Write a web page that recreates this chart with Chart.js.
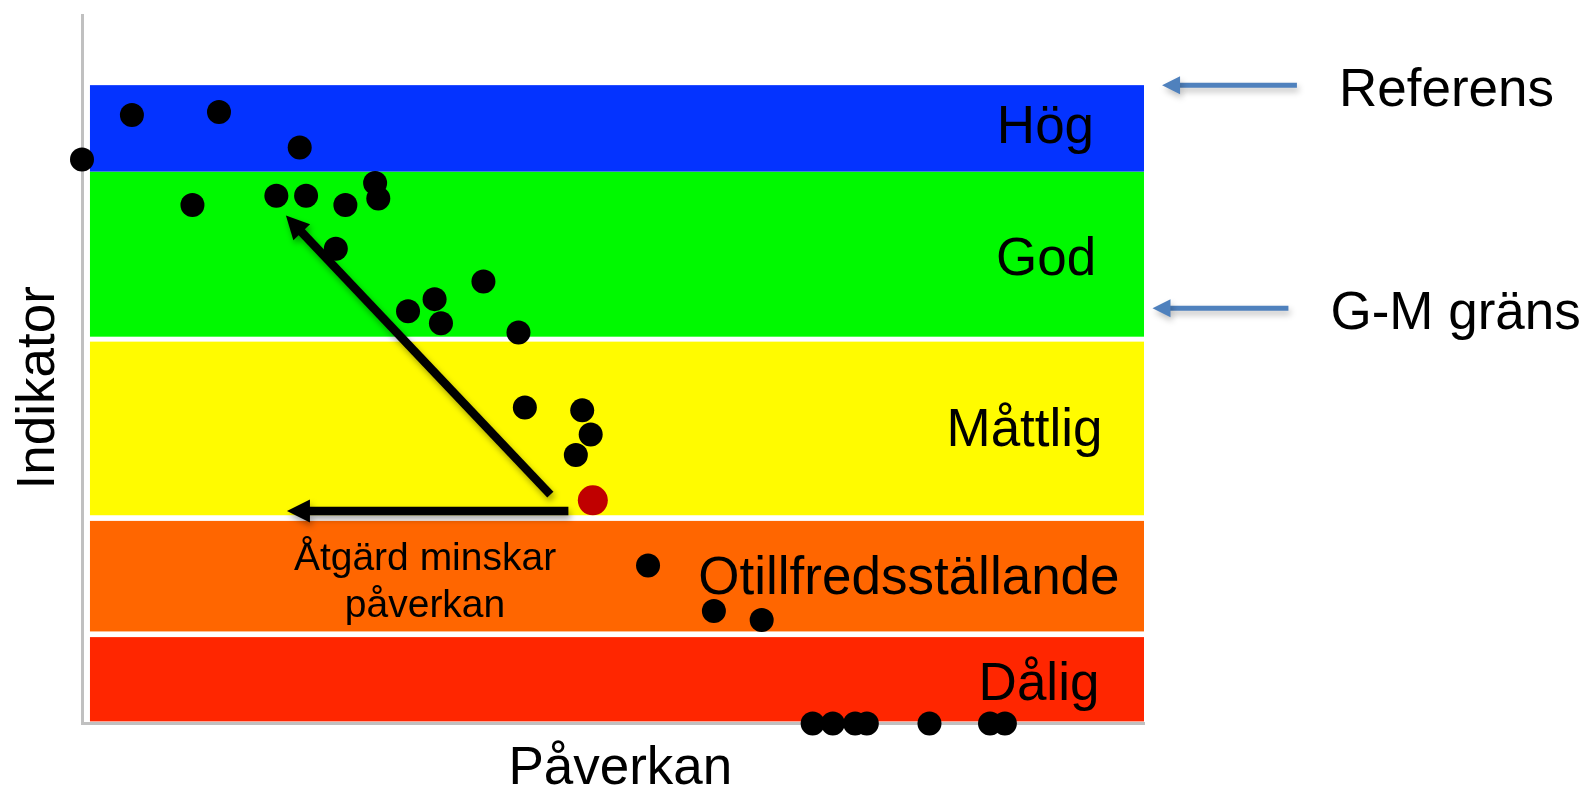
<!DOCTYPE html>
<html lang="sv">
<head>
<meta charset="utf-8">
<title>Indikator och påverkan</title>
<script src="https://cdn.jsdelivr.net/npm/chart.js@4"></script>
<style>
  html, body { margin: 0; padding: 0; background: #fff; }
  #chart { display: block; }
</style>
</head>
<body>
<canvas id="chart" width="1588" height="787"></canvas>
<script>
// Statusklasser på indikatorskalan (0-100), nedifrån och upp
const classNames = ['Dålig', 'Otillfredsställande', 'Måttlig', 'God', 'Hög'];
const classLower = [0.3, 13.0, 29.4, 54.6, 77.9];
const classUpper = [12.2, 28.6, 53.9, 77.9, 90.1];
const classColors = ['#ff2600', '#ff6600', '#fffb00', '#00f900', '#0433ff'];
// var klassnamnet står (högerkant, mitt) i diagrammets enheter
const classLabelX = [95.8, 97.7, 96.1, 95.5, 95.3];
const classLabelY = [5.4, 20.4, 41.3, 65.4, 84.0];

// Mätpunkter: påverkan (x) och indikator (y)
const pressure = [0, 4.7, 12.9, 20.5, 10.4, 18.3, 21.1, 24.8, 27.6, 27.9, 23.9, 30.7, 33.2, 33.8, 37.8, 41.1,
                  41.7, 47.1, 47.9, 46.5, 53.3, 59.5, 64.0, 68.8, 70.7, 72.8, 73.9, 79.8, 85.5, 86.9];
const indicator = [79.6, 85.9, 86.3, 81.3, 73.2, 74.5, 74.5, 73.2, 76.3, 74.1, 67.0, 58.2, 59.9, 56.5, 62.4, 55.2,
                   44.6, 44.2, 40.8, 37.9, 22.3, 15.9, 14.6, 0, 0, 0, 0, 0, 0, 0];

// Nuläge (röd punkt)
const currentPressure = [48.1];
const currentIndicator = [31.5];

// Åtgärdspilar: start -> spets
const actionFrom = [[44.1, 32.3], [45.8, 30.0]];
const actionTo = [[19.2, 71.7], [19.3, 30.0]];
const actionText = ['Åtgärd minskar', 'påverkan'];
const actionTextAt = [32.3, 21.7];

// Gränsmarkeringar till höger om diagrammet
const refLabels = ['Referens', 'G-M gräns'];
const refLevels = [90.1, 58.6];
const refArrowTail = [114.4, 113.6];
const refArrowTip = [101.7, 100.8];

const FONT = "'Liberation Sans', Arial, Helvetica, sans-serif";

function drawArrow(ctx, x1, y1, x2, y2, width, head, color) {
    const ang = Math.atan2(y2 - y1, x2 - x1);
    const bx = x2 - head * Math.cos(ang);
    const by = y2 - head * Math.sin(ang);
    const hw = head / 2;
    ctx.strokeStyle = color;
    ctx.fillStyle = color;
    ctx.lineWidth = width;
    ctx.lineCap = 'butt';
    ctx.beginPath();
    ctx.moveTo(x1, y1);
    ctx.lineTo(bx + Math.cos(ang), by + Math.sin(ang));
    ctx.stroke();
    ctx.beginPath();
    ctx.moveTo(x2, y2);
    ctx.lineTo(bx + hw * Math.sin(ang), by - hw * Math.cos(ang));
    ctx.lineTo(bx - hw * Math.sin(ang), by + hw * Math.cos(ang));
    ctx.closePath();
    ctx.fill();
}

// färgade klassband + klassnamn
const bandsPlugin = {
    id: 'bands',
    beforeDatasetsDraw(chart) {
        const {ctx, scales: {x, y}} = chart;
        const left = x.getPixelForValue(0.75);
        const right = x.getPixelForValue(100);
        ctx.save();
        classNames.forEach((name, i) => {
            const top = y.getPixelForValue(classUpper[i]);
            const bottom = y.getPixelForValue(classLower[i]);
            ctx.fillStyle = classColors[i];
            ctx.fillRect(left, top, right - left, bottom - top);
        });
        ctx.fillStyle = '#000';
        ctx.font = '53px ' + FONT;
        ctx.textAlign = 'right';
        ctx.textBaseline = 'middle';
        classNames.forEach((name, i) => {
            ctx.fillText(name, x.getPixelForValue(classLabelX[i]), y.getPixelForValue(classLabelY[i]));
        });
        // text under åtgärdspilen
        ctx.font = '39px ' + FONT;
        ctx.textAlign = 'center';
        ctx.textBaseline = 'alphabetic';
        const tx = x.getPixelForValue(actionTextAt[0]);
        const ty = y.getPixelForValue(actionTextAt[1]);
        actionText.forEach((line, i) => ctx.fillText(line, tx, ty + i * 47));
        ctx.restore();
    }
};

// pilar
const arrowsPlugin = {
    id: 'arrows',
    afterDatasetsDraw(chart) {
        const {ctx, scales: {x, y}} = chart;
        ctx.save();
        ctx.shadowColor = 'rgba(0,0,0,0.35)';
        ctx.shadowBlur = 6;
        ctx.shadowOffsetX = 2;
        ctx.shadowOffsetY = 4;
        actionFrom.forEach((from, i) => {
            drawArrow(ctx,
                x.getPixelForValue(from[0]), y.getPixelForValue(from[1]),
                x.getPixelForValue(actionTo[i][0]), y.getPixelForValue(actionTo[i][1]),
                8.5, 23, '#000');
        });
        ctx.shadowColor = 'rgba(0,0,0,0.25)';
        refLabels.forEach((label, i) => {
            const py = y.getPixelForValue(refLevels[i]);
            const tail = x.getPixelForValue(refArrowTail[i]);
            drawArrow(ctx, tail, py, x.getPixelForValue(refArrowTip[i]), py, 5, 18, '#4f81bd');
        });
        ctx.shadowColor = 'transparent';
        ctx.fillStyle = '#000';
        ctx.font = '53px ' + FONT;
        ctx.textAlign = 'left';
        ctx.textBaseline = 'middle';
        refLabels.forEach((label, i) => {
            const py = y.getPixelForValue(refLevels[i]);
            ctx.fillText(label, x.getPixelForValue(refArrowTail[i]) + 42, py + 6);
        });
        ctx.restore();
    }
};

new Chart(document.getElementById('chart'), {
    type: 'scatter',
    data: {
        datasets: [
            {
                label: 'Vattenförekomster',
                data: pressure.map((p, i) => ({x: p, y: indicator[i]})),
                backgroundColor: '#000',
                pointRadius: 12,
                borderWidth: 0,
                clip: false
            },
            {
                label: 'Nuläge',
                data: currentPressure.map((p, i) => ({x: p, y: currentIndicator[i]})),
                backgroundColor: '#c00000',
                pointRadius: 15,
                borderWidth: 0,
                clip: false
            }
        ]
    },
    options: {
        responsive: false,
        animation: false,
        events: [],
        layout: {padding: {top: 14, right: 444, bottom: 0, left: 0}},
        plugins: {
            legend: {display: false},
            tooltip: {enabled: false}
        },
        scales: {
            x: {
                type: 'linear',
                min: 0,
                max: 100,
                grid: {display: false, drawTicks: false},
                ticks: {display: false},
                border: {color: '#c0c0c0', width: 3},
                title: {
                    display: true,
                    text: ' Påverkan',
                    color: '#000',
                    font: {family: FONT, size: 53, lineHeight: 0.65},
                    padding: {top: 29, bottom: 0}
                }
            },
            y: {
                type: 'linear',
                min: 0,
                max: 100,
                grid: {display: false, drawTicks: false},
                ticks: {display: false},
                border: {color: '#c0c0c0', width: 3},
                title: {
                    display: true,
                    text: 'Indikator\u2002\u2009',
                    color: '#000',
                    font: {family: FONT, size: 53, lineHeight: 1},
                    padding: {top: 13, bottom: 16}
                }
            }
        }
    },
    plugins: [bandsPlugin, arrowsPlugin]
});
</script>
</body>
</html>
